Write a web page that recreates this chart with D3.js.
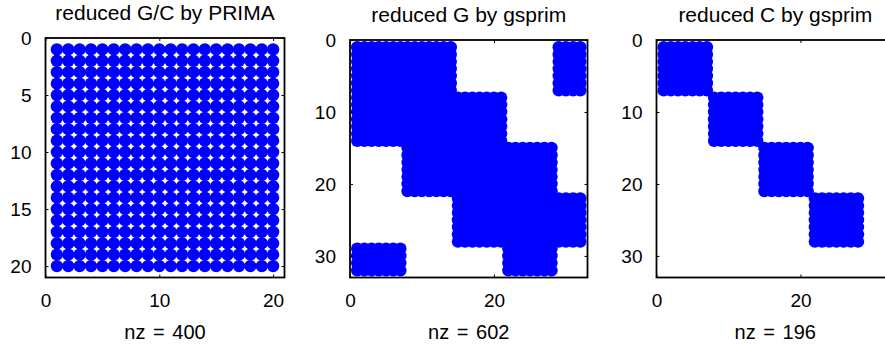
<!DOCTYPE html>
<html>
<head>
<meta charset="utf-8">
<script src="https://cdn.jsdelivr.net/npm/d3@7"></script>
<style>
  body { margin: 0; background: #fff; }
  svg { display: block; }
  text { font-family: "Liberation Sans", Arial, sans-serif; fill: #000; }
</style>
</head>
<body>
<div id="chart"></div>
<script>
// sparsity patterns, as blocks [rowFrom, rowTo, colFrom, colTo] (1-based, inclusive)
const titles = ["reduced G/C by PRIMA", "reduced G by gsprim", "reduced C by gsprim"];
const sizes = [20, 32, 32];
const primaBlocks = [[1, 20, 1, 20]];
const gBlocks = [
    [1, 14, 1, 14], [8, 21, 8, 21], [15, 28, 15, 28],
    [22, 28, 22, 32], [22, 32, 22, 28],
    [1, 7, 29, 32], [29, 32, 1, 7]
];
const cBlocks = [[1, 7, 1, 7], [8, 14, 8, 14], [15, 21, 15, 21], [22, 28, 22, 28]];
const xTicks = [[0, 10, 20], [0, 20], [0, 20]];
const yTicks = [[0, 5, 10, 15, 20], [0, 10, 20, 30], [0, 10, 20, 30]];

const W = 885, H = 348;
const tickFont = 19;
const titleFont = 21;
const labelFont = 20;
const dotR = 6.2;

// panel frames in pixels
const frames = [
    {x: 45.5, y: 38, w: 239, h: 239.5},
    {x: 350, y: 40, w: 237.5, h: 237.5},
    {x: 656.5, y: 40, w: 237.5, h: 237.5}
];

function entries(blocks) {
    let seen = new Set();
    let out = [];
    for (let [r0, r1, c0, c1] of blocks) {
        for (let r = r0; r <= r1; r++) {
            for (let c = c0; c <= c1; c++) {
                let key = r + "_" + c;
                if (!seen.has(key)) {
                    seen.add(key);
                    out.push({row: r, col: c});
                }
            }
        }
    }
    return out;
}

const svg = d3.select("#chart")
    .append("svg")
    .attr("width", W)
    .attr("height", H);

function drawSpy(i, blocks) {
    let f = frames[i];
    let n = sizes[i];
    let data = entries(blocks);

    let x = d3.scaleLinear().domain([0, n + 1]).range([0, f.w]);
    let y = d3.scaleLinear().domain([0, n + 1]).range([0, f.h]);

    let g = svg.append("g")
        .attr("transform", "translate(" + f.x + "," + f.y + ")");

    g.append("g")
        .attr("fill", "#0000ff")
        .selectAll("circle")
        .data(data)
        .join("circle")
        .attr("cx", d => x(d.col))
        .attr("cy", d => y(d.row))
        .attr("r", dotR);

    // axes, ticks pointing inward like matlab
    g.append("g")
        .attr("transform", "translate(0," + f.h + ")")
        .call(d3.axisBottom(x).tickValues(xTicks[i]).tickSize(-3).tickSizeOuter(0).tickPadding(16));
    g.append("g")
        .call(d3.axisLeft(y).tickValues(yTicks[i]).tickSize(-3).tickSizeOuter(0).tickPadding(14));
    g.append("g")
        .call(d3.axisTop(x).tickValues(xTicks[i]).tickSize(-3).tickSizeOuter(0).tickFormat(""));
    g.append("g")
        .attr("transform", "translate(" + f.w + ",0)")
        .call(d3.axisRight(y).tickValues(yTicks[i]).tickSize(-3).tickSizeOuter(0).tickFormat(""));

    g.selectAll(".domain").remove();
    g.selectAll(".tick line").attr("stroke", "#000").attr("stroke-width", 1);
    g.selectAll(".tick text")
        .style("font-family", '"Liberation Sans", Arial, sans-serif')
        .style("font-size", tickFont + "px")
        .attr("fill", "#000");

    g.append("rect")
        .attr("width", f.w)
        .attr("height", f.h)
        .attr("fill", "none")
        .attr("stroke", "#000")
        .attr("stroke-width", 1.8);

    g.append("text")
        .attr("x", f.w / 2)
        .attr("y", -18)
        .attr("text-anchor", "middle")
        .style("font-size", titleFont + "px")
        .text(titles[i]);

    g.append("text")
        .attr("x", f.w / 2)
        .attr("y", f.h + 61)
        .attr("text-anchor", "middle")
        .style("font-size", labelFont + "px")
        .style("word-spacing", "2px")
        .text("nz = " + data.length);
}

drawSpy(0, primaBlocks);
drawSpy(1, gBlocks);
drawSpy(2, cBlocks);
</script>
</body>
</html>
